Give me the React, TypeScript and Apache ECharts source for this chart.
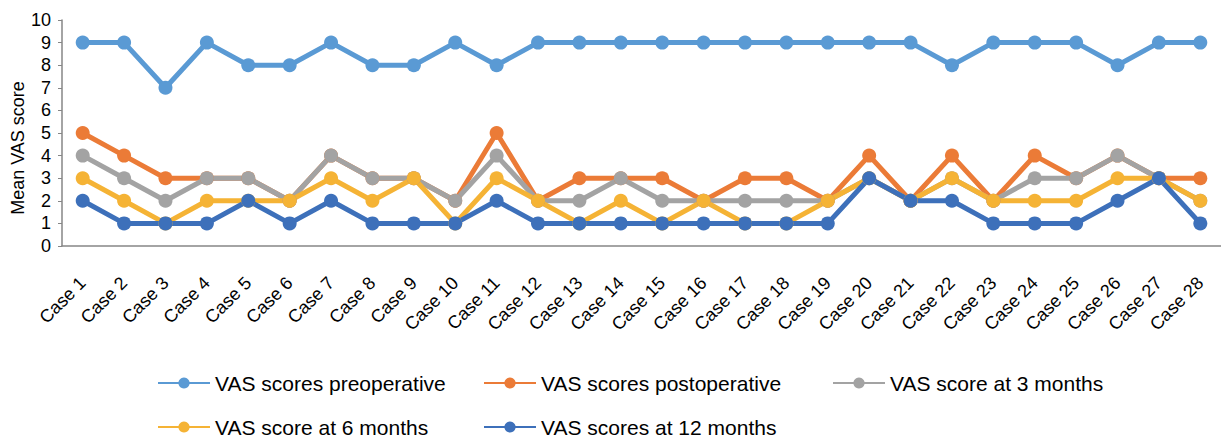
import React, { useEffect, useRef } from "react";
import * as echarts from "echarts";

const categories = Array.from({ length: 28 }, (_, i) => `Case ${i + 1}`);

const seriesNames = [
  "VAS scores preoperative",
  "VAS scores postoperative",
  "VAS score at 3 months",
  "VAS score at 6 months",
  "VAS scores at 12 months",
];

const preoperative = [9, 9, 7, 9, 8, 8, 9, 8, 8, 9, 8, 9, 9, 9, 9, 9, 9, 9, 9, 9, 9, 8, 9, 9, 9, 8, 9, 9];
const postoperative = [5, 4, 3, 3, 3, 2, 4, 3, 3, 2, 5, 2, 3, 3, 3, 2, 3, 3, 2, 4, 2, 4, 2, 4, 3, 4, 3, 3];
const months3 = [4, 3, 2, 3, 3, 2, 4, 3, 3, 2, 4, 2, 2, 3, 2, 2, 2, 2, 2, 3, 2, 3, 2, 3, 3, 4, 3, 2];
const months6 = [3, 2, 1, 2, 2, 2, 3, 2, 3, 1, 3, 2, 1, 2, 1, 2, 1, 1, 2, 3, 2, 3, 2, 2, 2, 3, 3, 2];
const months12 = [2, 1, 1, 1, 2, 1, 2, 1, 1, 1, 2, 1, 1, 1, 1, 1, 1, 1, 1, 3, 2, 2, 1, 1, 1, 2, 3, 1];

const yTicks = [0, 10, 1]; // min, max, interval

const colors = ["#5A9AD4", "#EB7B37", "#A3A3A3", "#F5B335", "#3D70BA"];

const FONT = "Liberation Sans, Arial, sans-serif";

// legend placement (left, top) for each series item
const legendPos = [
  [157, 371],
  [483, 371],
  [832, 371],
  [157, 415],
  [483, 415],
];

export default function App() {
  const ref = useRef<HTMLDivElement>(null);
  useEffect(() => {
    if (!ref.current) return;
    const chart = echarts.init(ref.current, undefined, { renderer: "svg" });
    const data = [preoperative, postoperative, months3, months6, months12];
    chart.setOption({
      animation: false,
      color: colors,
      textStyle: { fontFamily: FONT },
      grid: { left: 62, right: -5, top: 20, bottom: 191, containLabel: false },
      legend: seriesNames.map((n, i) => ({
        left: legendPos[i][0],
        top: legendPos[i][1],
        padding: 0,
        itemWidth: 52,
        itemHeight: 14,
        itemGap: 0,
        data: [n],
        textStyle: { fontSize: 21, fontFamily: FONT, color: "#000", lineHeight: 24 },
      })),
      graphic: [
        {
          type: "text",
          x: 18,
          y: 148,
          rotation: Math.PI / 2,
          style: {
            text: "Mean VAS score",
            fontSize: 18,
            fontFamily: FONT,
            fill: "#000",
            align: "center",
            verticalAlign: "middle",
          },
        },
      ],
      xAxis: {
        type: "category",
        data: categories,
        boundaryGap: true,
        axisLine: { lineStyle: { color: "#868686", width: 1.5 } },
        axisTick: { show: false },
        axisLabel: {
          rotate: 45,
          margin: 34,
          fontSize: 18,
          color: "#000",
          fontFamily: FONT,
          interval: 0,
        },
      },
      yAxis: {
        type: "value",
        min: yTicks[0],
        max: yTicks[1],
        interval: yTicks[2],
        splitLine: { show: false },
        axisLine: { show: true, lineStyle: { color: "#868686", width: 1.5 } },
        axisTick: { show: true, length: 4, lineStyle: { color: "#868686" } },
        axisLabel: { fontSize: 18, color: "#000", fontFamily: FONT, margin: 11 },
      },
      series: data.map((d, i) => ({
        name: seriesNames[i],
        type: "line",
        data: d,
        symbol: "circle",
        symbolSize: 14,
        lineStyle: { width: 5 },
        itemStyle: { color: colors[i] },
      })),
    });
    return () => chart.dispose();
  }, []);
  return (
    <div
      ref={ref}
      style={{ position: "absolute", left: 0, top: 0, width: 1221, height: 437 }}
    />
  );
}
